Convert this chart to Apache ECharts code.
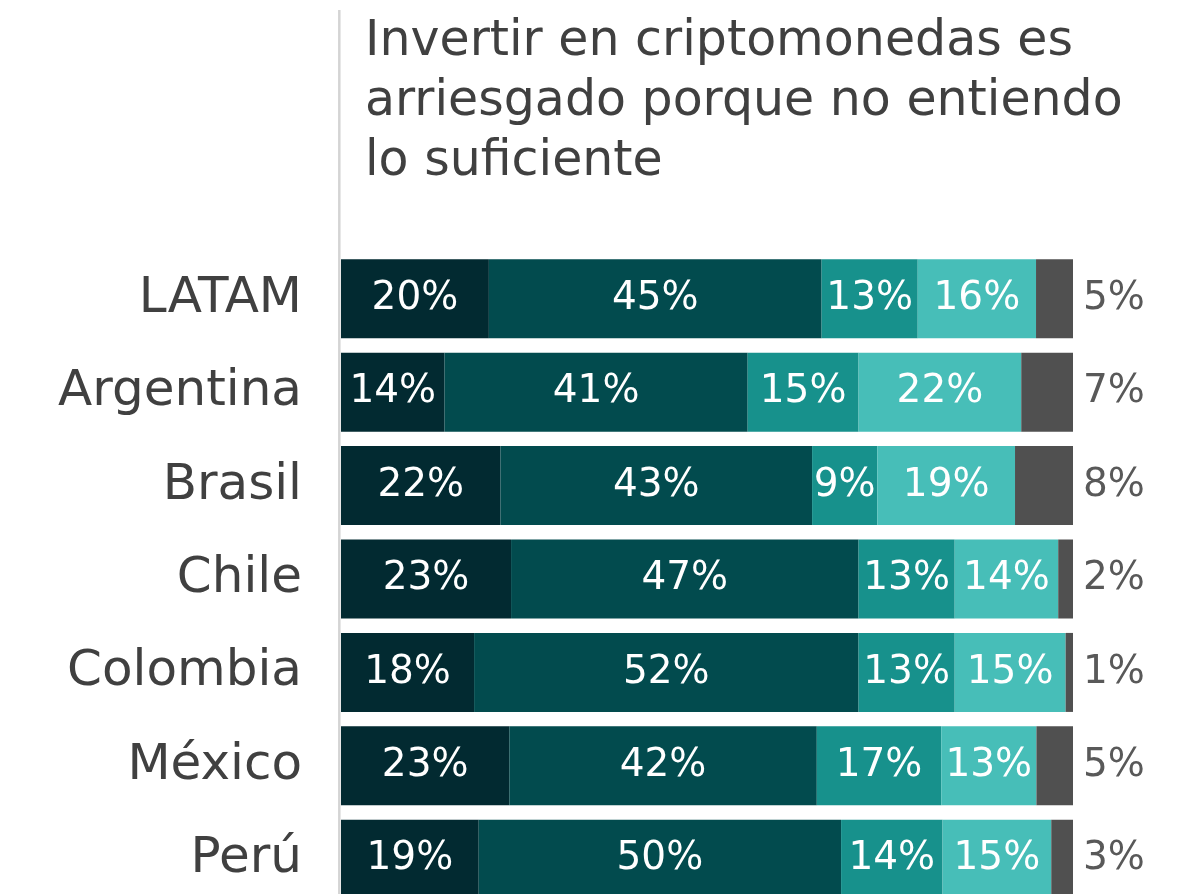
<!DOCTYPE html>
<html>
<head>
<meta charset="utf-8">
<script src="https://cdn.jsdelivr.net/npm/echarts@6/dist/echarts.min.js"></script>
<style>
html,body{margin:0;padding:0;background:#fff;overflow:hidden;}
#chart{width:1189px;height:906px;}
</style>
</head>
<body>
<div id="chart"></div>
<script>
const titleText = 'Invertir en criptomonedas es\narriesgado porque no entiendo\nlo suficiente';
const categories = ['LATAM', 'Argentina', 'Brasil', 'Chile', 'Colombia', 'México', 'Perú'];
const seg1 = [20, 14, 22, 23, 18, 23, 19];
const seg2 = [45, 41, 43, 47, 52, 42, 50];
const seg3 = [13, 15, 9, 13, 13, 17, 14];
const seg4 = [16, 22, 19, 14, 15, 13, 15];
const seg5 = [5, 7, 8, 2, 1, 5, 3];
const colors = ['#022A31', '#024B4E', '#17918C', '#47BEB8', '#505050'];

const FONT = '"DejaVu Sans", sans-serif';
const segs = [seg1, seg2, seg3, seg4, seg5];
const totals = categories.map((_, i) => segs.reduce((s, a) => s + a[i], 0));

const series = segs.map((arr, k) => ({
  type: 'bar',
  stack: 'total',
  barWidth: 79,
  itemStyle: { color: colors[k] },
  data: arr.map((v, i) => ({ value: v / totals[i] * 100, raw: v })),
  label: {
    show: true,
    position: k === 4 ? 'right' : 'inside',
    distance: 10,
    color: k === 4 ? '#595959' : '#ffffff',
    fontFamily: FONT,
    fontWeight: 'normal',
    fontSize: 39,
    formatter: p => p.data.raw + '%'
  },
  emphasis: { disabled: true }
}));

const chart = echarts.init(document.getElementById('chart'), null, { renderer: 'canvas' });
chart.setOption({
  animation: false,
  backgroundColor: '#ffffff',
  title: {
    text: titleText,
    left: 365,
    top: 12,
    padding: 0,
    textStyle: {
      fontFamily: FONT,
      fontWeight: 'normal',
      fontSize: 49,
      lineHeight: 60,
      color: '#404040'
    }
  },
  grid: { left: 341, right: 116, top: 252, bottom: 0, containLabel: false },
  xAxis: { type: 'value', min: 0, max: 100, show: false },
  yAxis: {
    type: 'category',
    data: categories,
    inverse: true,
    axisLine: { show: false },
    axisTick: { show: false },
    axisLabel: {
      margin: 39,
      padding: [6, 0, 0, 0],
      fontFamily: FONT,
      fontWeight: 'normal',
      fontSize: 50,
      color: '#404040'
    }
  },
  graphic: [{
    type: 'line',
    shape: { x1: 339.3, y1: 10, x2: 339.3, y2: 906 },
    style: { stroke: '#d4d4d4', lineWidth: 2.5 },
    z: 10
  }],
  series: series
});
</script>
</body>
</html>
